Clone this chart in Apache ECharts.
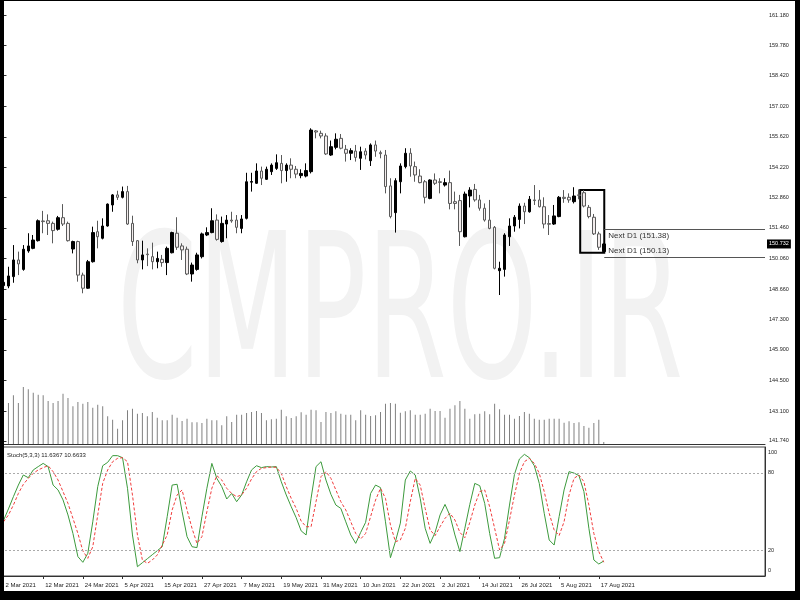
<!DOCTYPE html>
<html><head><meta charset="utf-8">
<script src="https://cdn.jsdelivr.net/npm/echarts@6/dist/echarts.min.js"></script>
<style>
html,body{margin:0;padding:0;background:#000;}
#wrap{position:relative;width:800px;height:600px;background:#000;overflow:hidden}
#paper{position:absolute;left:4px;top:1px;width:791px;height:590px;background:#fff}
#chart{position:absolute;left:0;top:0;width:800px;height:600px}
#frame{position:absolute;left:0;top:0;width:800px;height:600px;box-sizing:border-box;border-top:1px solid #000;border-left:4px solid #000;border-right:5px solid #000;border-bottom:9px solid #000;pointer-events:none}
</style></head>
<body><div id="wrap"><div id="paper"></div><div id="chart"></div><div id="frame"></div></div>
<script>
const dates = ['2 Mar 2021','3 Mar 2021','4 Mar 2021','5 Mar 2021','8 Mar 2021','9 Mar 2021','10 Mar 2021','11 Mar 2021','12 Mar 2021','15 Mar 2021','16 Mar 2021','17 Mar 2021','18 Mar 2021','19 Mar 2021','22 Mar 2021','23 Mar 2021','24 Mar 2021','25 Mar 2021','26 Mar 2021','29 Mar 2021','30 Mar 2021','31 Mar 2021',
'1 Apr 2021','2 Apr 2021','5 Apr 2021','6 Apr 2021','7 Apr 2021','8 Apr 2021','9 Apr 2021','12 Apr 2021','13 Apr 2021','14 Apr 2021','15 Apr 2021','16 Apr 2021','19 Apr 2021','20 Apr 2021','21 Apr 2021','22 Apr 2021','23 Apr 2021','26 Apr 2021','27 Apr 2021','28 Apr 2021','29 Apr 2021','30 Apr 2021',
'3 May 2021','4 May 2021','5 May 2021','6 May 2021','7 May 2021','10 May 2021','11 May 2021','12 May 2021','13 May 2021','14 May 2021','17 May 2021','18 May 2021','19 May 2021','20 May 2021','21 May 2021','24 May 2021','25 May 2021','26 May 2021','27 May 2021','28 May 2021','31 May 2021',
'1 Jun 2021','2 Jun 2021','3 Jun 2021','4 Jun 2021','7 Jun 2021','8 Jun 2021','9 Jun 2021','10 Jun 2021','11 Jun 2021','14 Jun 2021','15 Jun 2021','16 Jun 2021','17 Jun 2021','18 Jun 2021','21 Jun 2021','22 Jun 2021','23 Jun 2021','24 Jun 2021','25 Jun 2021','28 Jun 2021','29 Jun 2021','30 Jun 2021',
'1 Jul 2021','2 Jul 2021','5 Jul 2021','6 Jul 2021','7 Jul 2021','8 Jul 2021','9 Jul 2021','12 Jul 2021','13 Jul 2021','14 Jul 2021','15 Jul 2021','16 Jul 2021','19 Jul 2021','20 Jul 2021','21 Jul 2021','22 Jul 2021','23 Jul 2021','26 Jul 2021','27 Jul 2021','28 Jul 2021','29 Jul 2021','30 Jul 2021',
'2 Aug 2021','3 Aug 2021','4 Aug 2021','5 Aug 2021','6 Aug 2021','9 Aug 2021','10 Aug 2021','11 Aug 2021','12 Aug 2021','13 Aug 2021','16 Aug 2021','17 Aug 2021','18 Aug 2021'];

const open = [148.83,148.81,149.24,150.00,149.57,150.41,150.53,150.88,151.78,151.79,
151.67,151.40,151.93,151.67,150.50,150.84,149.31,148.71,149.92,151.29,
150.99,151.55,152.51,152.97,152.86,153.12,151.67,150.88,150.00,150.27,
150.15,149.92,150.03,149.88,150.33,151.22,150.64,150.49,149.36,149.57,
150.15,151.14,151.25,151.82,150.84,151.64,151.82,151.82,151.44,151.90,
153.55,153.50,154.06,153.68,154.03,154.18,154.41,154.08,154.33,154.14,
153.85,153.83,154.03,155.89,155.78,155.66,154.79,155.14,155.55,155.05,
154.87,154.97,154.64,154.97,154.53,155.25,154.90,154.79,153.38,152.16,
153.57,154.26,154.87,154.26,153.83,153.57,152.81,153.65,153.57,153.42,
153.53,152.66,152.71,151.06,152.92,153.22,152.74,152.36,151.82,151.49,
149.51,149.57,151.06,151.55,151.85,152.46,152.20,152.74,152.74,152.43,
151.66,151.64,151.98,152.86,152.86,152.66,152.97,153.07,152.40,151.95,
151.19,150.38];
const close = [148.98,149.27,150.00,149.82,150.49,150.64,150.91,151.79,151.75,151.67,
151.34,151.93,151.64,150.88,150.84,149.31,148.71,149.92,151.25,151.06,
151.55,152.55,152.97,152.86,153.12,151.64,150.84,150.00,150.23,150.24,
149.92,150.07,149.88,150.53,151.25,150.58,150.46,149.36,149.77,150.23,
151.19,151.25,151.79,150.94,151.67,151.82,151.78,151.49,151.87,153.57,
153.58,154.06,153.73,154.14,154.33,154.44,154.08,154.33,154.14,153.92,
153.95,154.08,155.93,155.84,155.66,154.84,155.17,155.51,155.10,154.87,
154.99,154.68,154.94,154.79,155.25,154.97,154.85,153.35,151.98,153.62,
154.29,154.87,154.29,153.88,153.53,152.86,153.65,153.50,153.54,153.53,
152.58,152.58,151.29,153.01,153.19,152.74,152.36,151.82,151.44,149.62,
149.62,151.14,151.55,151.95,152.46,152.20,152.77,152.71,152.43,151.64,
151.63,152.01,152.86,152.81,152.74,152.92,152.95,152.46,151.98,151.19,
150.58,150.732];
const low = [148.71,148.71,148.96,149.31,149.51,150.33,150.49,150.84,151.22,151.14,
150.76,151.34,151.55,150.84,150.30,149.01,148.48,148.68,149.88,150.53,
150.94,151.52,152.20,152.74,152.81,151.60,150.64,149.85,149.57,149.72,
149.57,149.62,149.69,149.31,150.30,150.46,150.00,149.31,149.01,149.51,
150.07,151.09,151.22,150.88,150.79,150.99,151.70,151.22,151.22,151.85,
153.12,153.47,153.42,153.65,153.88,154.11,153.50,153.57,153.73,153.73,
153.73,153.77,153.95,155.55,155.55,154.79,154.75,155.05,155.05,154.49,
154.56,154.49,154.11,154.59,154.29,154.71,154.64,153.04,151.90,151.25,
153.04,154.18,153.80,153.57,153.50,152.58,152.77,153.42,153.04,153.35,
152.31,152.31,150.64,151.03,152.40,152.66,152.25,151.75,151.40,149.57,
148.40,149.24,150.64,151.29,151.44,151.64,152.16,152.51,152.40,151.44,
151.14,151.60,151.95,152.61,152.61,152.58,152.77,152.40,151.90,151.14,
150.46,150.33];
const high = [149.12,149.69,150.68,150.38,150.68,151.22,151.14,151.85,152.24,152.08,
151.75,152.01,152.55,151.75,150.88,150.88,149.42,150.00,151.52,151.79,
151.90,152.58,153.01,153.16,153.35,153.38,152.02,150.91,150.88,150.53,
150.79,150.38,150.23,150.61,151.29,151.95,150.76,150.61,149.88,150.33,
151.25,151.49,152.36,152.08,151.98,152.05,152.20,152.05,152.05,153.98,
153.98,154.41,154.26,154.26,154.41,154.82,154.79,154.41,154.64,154.29,
154.14,154.41,156.01,155.93,155.90,155.78,155.45,155.78,155.75,155.25,
155.10,155.25,155.17,155.10,155.32,155.45,154.99,155.02,153.73,153.73,
154.41,155.10,155.10,154.49,154.14,153.65,153.68,153.95,153.73,153.73,
154.08,153.12,152.97,153.12,153.32,153.47,152.97,152.58,152.74,151.55,
149.92,151.22,151.90,152.05,152.58,152.61,152.92,153.42,153.19,152.86,
152.05,152.51,152.92,153.19,153.04,153.32,153.22,153.19,152.51,152.10,
151.29,150.76];
const volume = [41,41,48.7,41,57,54.7,51.3,49.3,48.7,43,
41,43,50.3,46,37.7,42,40.3,42,36.3,39.3,
37.7,27.7,24.3,15.3,23.7,33.7,35.3,30.3,31,27.7,
32,26.3,23.7,23.7,29.3,26.3,23,25.3,21.7,21.7,
21,25.3,23.7,23.7,18.7,27.7,22,29.3,29.3,31,
32,33,31,23.7,24.7,25.3,34.3,27.7,26,27.7,
31.7,29.3,34.3,33.7,22,32,31,32.7,30.3,29.3,
29.3,23.7,33.7,29.3,28,28.7,32,40.3,41,40.3,
31.3,32.7,33.7,29.3,29.3,30.3,35.3,33,33,26.3,
35.3,38.7,43,35.3,25.3,29.7,30.3,32.7,29.7,40.3,
34.7,29.3,29.3,25.3,28,32,30.3,25.3,24.3,24.3,
25.3,25.3,25.3,21.3,22.7,21,21.7,18,16.3,21,
24.3,2];
const stochK = [43,52,61.5,70.5,78.3,76.2,82.2,84.8,87.3,84.8,
70.5,66.7,59,47.3,33,15,10.6,17.6,42,69.3,
85.5,88.1,93.3,93.3,91.7,68,31.8,7.2,10.3,13.4,
16.5,19.6,22.7,46,70.5,71.1,50,30.5,22.7,22,
46,68,87.3,75.7,69.3,59.7,64,57.6,62.8,73,
82.2,85.5,84,84.8,84.5,84.8,73,62.8,53.7,45.2,
35,31.8,60.2,84.8,88.6,74.4,63.3,55,52.4,42,
31.8,25.3,33.8,41.6,64,70.5,68.5,42,14.2,26.6,
41,74.4,81.4,78.3,60.2,37,25.3,33.8,47.3,55.5,
46.8,31.8,18.9,37,55.5,71.8,70,56.3,33,13.7,
14.2,29.2,55,78.8,90.7,94.3,91.7,85.5,71.8,48.6,
27.9,24,46,66.7,80.9,79.8,77.8,65.4,37,12.4,
9.3,11.6367];
const stochD = [42,47.3,55,64,71,75.7,79.6,82.2,84,85.5,
80.9,74.4,65.4,56.3,44.7,33,19.4,13.7,22.7,47.3,
71.8,82.2,88.6,91.2,91.7,88.6,62.8,31.8,12.4,9.8,
12.4,16.3,24,31.8,51.2,62.8,66.7,51.2,37,25.3,
30.5,49.9,68,77.8,74.4,68,64,61.5,62.8,68,
75.2,80.9,83.5,84,84.5,84.2,79.6,69.3,60.2,52.4,
42.6,38.2,38.2,57.6,77,80.9,75.7,66.7,57.6,51.2,
42.1,33,28.7,33,46,58.9,68,60.2,39.6,26.6,
27.9,37,57.6,75.7,70.5,52.4,35.7,31.3,38.2,44.7,
48.6,43.4,33.8,29.7,41.6,55,65.4,66.7,53.7,37,
20.2,25.3,43.4,62.8,79.6,88.6,91.2,87.3,79.6,65.4,
48.6,35.7,31.3,42.1,62.8,75.7,78.3,73.1,55,33,
18.9,10.6633];
const priceTicks = [141.74,143.10,144.50,145.90,147.30,148.66,150.06,151.46,152.86,154.22,155.62,157.02,158.42,159.78,161.18];
const stochLevels = [0,20,80,100];
const nextD1 = [151.38,150.13];
const lastPrice = 150.732;
const boxRange = {fromIndex:116.25, toIndex:121.1, low:150.33, high:153.19};

const N_SLOTS = 154;
const cats = dates.concat(new Array(N_SLOTS - dates.length).fill(''));
const FONT = "'Liberation Sans','Arial',sans-serif";
const candle = dates.map((d,i)=>[open[i], close[i], low[i], high[i]]);
const labelEvery = (idx, val) => val !== '' && idx % 8 === 0;

const chart = echarts.init(document.getElementById('chart'), null, {renderer:'canvas'});
chart.setOption({
  animation:false,
  backgroundColor:'transparent',
  title:{
    text:'Stoch(5,3,3) ' + stochK[stochK.length-1].toFixed(4) + ' ' + stochD[stochD.length-1].toFixed(4),
    left:7, top:452, padding:0,
    textStyle:{fontSize:6, fontWeight:'normal', color:'#222', fontFamily:FONT}
  },
  graphic:[{
    type:'text', x:400, y:325, z:-10, scaleX:0.638, scaleY:1,
    style:{text:'CMPRO.IR', fill:'#f2f2f2', font:"201px 'DejaVu Sans Condensed',sans-serif", align:'center', verticalAlign:'middle'}
  }],
  grid:[
    {left:1, right:35, top:1, height:443},
    {left:1, right:35, top:447, height:129, show:true, borderColor:'#444', borderWidth:1, backgroundColor:'transparent'}
  ],
  xAxis:[
    {type:'category', gridIndex:0, data:cats, boundaryGap:true,
     axisLine:{show:true, lineStyle:{color:'#333'}}, axisTick:{show:false}, axisLabel:{show:false}, splitLine:{show:false}},
    {type:'value', gridIndex:0, min:-0.5, max:N_SLOTS-0.5, show:false},
    {type:'category', gridIndex:1, data:cats, boundaryGap:true,
     axisLine:{show:true, lineStyle:{color:'#333'}},
     axisTick:{show:true, interval:labelEvery, alignWithLabel:true, length:3, lineStyle:{color:'#333'}},
     axisLabel:{interval:labelEvery, align:'left', margin:6, fontSize:6, color:'#222', fontFamily:FONT, padding:[0,0,0,2]},
     splitLine:{show:false}}
  ],
  yAxis:[
    {type:'value', gridIndex:0, position:'right', min:141.6, max:161.82, scale:true,
     splitLine:{show:false}, axisLine:{show:true, lineStyle:{color:'#333'}},
     axisTick:{show:true, length:3, customValues:priceTicks, lineStyle:{color:'#333'}},
     axisLabel:{customValues:priceTicks, formatter:v=>v.toFixed(3), fontSize:5.5, color:'#222', fontFamily:FONT, margin:4}},
    {type:'value', gridIndex:0, min:0, max:443, show:false},
    {type:'value', gridIndex:1, position:'right', min:0, max:100,
     splitLine:{show:false}, axisLine:{show:true, lineStyle:{color:'#333'}},
     axisTick:{show:false},
     axisLabel:{customValues:stochLevels, margin:3, fontSize:5.5, color:'#222', fontFamily:FONT,
       formatter:v=> v===100 ? '{a|100}' : (v===0 ? '{b|0}' : String(v)),
       rich:{a:{fontSize:5.5, fontFamily:FONT, color:'#222', padding:[11,0,0,0]},
             b:{fontSize:5.5, fontFamily:FONT, color:'#222', padding:[0,0,11,0]}}}}
  ],
  series:[
    {type:'bar', xAxisIndex:0, yAxisIndex:1, data:volume, barWidth:1, itemStyle:{color:'#808080'}, silent:true},
    {type:'candlestick', xAxisIndex:0, yAxisIndex:0, data:candle, barWidth:3,
     itemStyle:{color:'#000', color0:'#f3eded', borderColor:'#000', borderColor0:'#5a5a5a', borderColorDoji:'#333', borderWidth:1}},
    {type:'line', xAxisIndex:1, yAxisIndex:0, data:[], silent:true,
     markArea:{silent:true, itemStyle:{color:'rgba(0,0,0,0)', borderColor:'#000', borderWidth:2},
       data:[[{coord:[boxRange.fromIndex, boxRange.high]},{coord:[boxRange.toIndex, boxRange.low]}]]},
     markLine:{silent:true, symbol:['none','none'],
       data:[
         [{coord:[boxRange.toIndex, nextD1[0]], lineStyle:{color:'#555', width:1, type:'solid'},
           label:{show:true, position:'insideStartBottom', formatter:'Next D1 (' + nextD1[0].toFixed(2) + ')', distance:[4,2], fontSize:8, color:'#333', fontFamily:FONT}},
          {coord:[N_SLOTS-0.5, nextD1[0]]}],
         [{coord:[boxRange.toIndex, nextD1[1]], lineStyle:{color:'#555', width:1, type:'solid'},
           label:{show:true, position:'insideStartTop', formatter:'Next D1 (' + nextD1[1].toFixed(2) + ')', distance:[4,2], fontSize:8, color:'#333', fontFamily:FONT}},
          {coord:[N_SLOTS-0.5, nextD1[1]]}]
       ]}},
    {type:'line', xAxisIndex:0, yAxisIndex:0, data:[], silent:true,
     markLine:{silent:true, symbol:['none','none'],
       data:[{yAxis:lastPrice, lineStyle:{color:'rgba(0,0,0,0)', width:1},
          label:{show:true, position:'end', distance:2, formatter:lastPrice.toFixed(3), backgroundColor:'#000', color:'#fff', padding:[2,2,1,2], fontSize:5.5, fontFamily:FONT}}]}},
    {type:'line', xAxisIndex:2, yAxisIndex:2, data:stochK, symbol:'none', lineStyle:{color:'#3c9a3c', width:1}, silent:true,
     markLine:{silent:true, symbol:['none','none'], label:{show:false},
       lineStyle:{color:'#aaa', type:[2,2], width:1},
       data:[{yAxis:stochLevels[1]},{yAxis:stochLevels[2]}]}},
    {type:'line', xAxisIndex:2, yAxisIndex:2, data:stochD, symbol:'none', lineStyle:{color:'#f03c3c', width:1, type:[3,2]}, silent:true}
  ]
});
</script></body></html>
